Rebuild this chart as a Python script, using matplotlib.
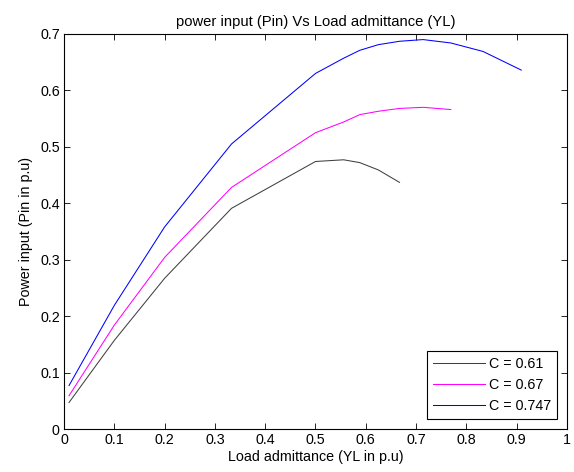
import matplotlib
matplotlib.use('Agg')
import matplotlib.pyplot as plt

plt.rcParams['font.family'] = ['Liberation Sans', 'DejaVu Sans']

# Load admittance YL = 1/RL
yl_061 = [0.01, 0.1, 0.2, 0.333, 0.5, 0.556, 0.588, 0.625, 0.667]
pin_061 = [0.047, 0.157, 0.267, 0.391, 0.474, 0.477, 0.472, 0.459, 0.437]

yl_067 = [0.01, 0.1, 0.2, 0.333, 0.5, 0.556, 0.588, 0.625, 0.667, 0.714, 0.769]
pin_067 = [0.059, 0.184, 0.304, 0.428, 0.525, 0.544, 0.557, 0.563, 0.568, 0.570, 0.566]

yl_0747 = [0.01, 0.1, 0.2, 0.333, 0.5, 0.556, 0.588, 0.625, 0.667, 0.714, 0.769, 0.833, 0.909]
pin_0747 = [0.077, 0.219, 0.358, 0.505, 0.630, 0.657, 0.671, 0.681, 0.687, 0.690, 0.684, 0.669, 0.636]

labels = ['C = 0.61', 'C = 0.67', 'C = 0.747']
fs = 10.3

fig = plt.figure(figsize=(5.74, 4.72), dpi=100)
ax = fig.add_axes([0.1115, 0.0911, 0.8763, 0.837])

ax.plot(yl_061, pin_061, color='#404040', linewidth=0.75, label=labels[0])
ax.plot(yl_067, pin_067, color='#ff00ff', linewidth=0.75, label=labels[1])
ax.plot(yl_0747, pin_0747, color='#0000ff', linewidth=0.75, label=labels[2])

ax.set_xlim(0, 1)
ax.set_ylim(0, 0.7)
ax.set_xticks([i / 10 for i in range(11)])
ax.set_xticklabels(['0', '0.1', '0.2', '0.3', '0.4', '0.5', '0.6', '0.7', '0.8', '0.9', '1'])
ax.set_yticks([i / 10 for i in range(8)])
ax.set_yticklabels(['0', '0.1', '0.2', '0.3', '0.4', '0.5', '0.6', '0.7'])
ax.tick_params(direction='in', top=True, right=True, length=4, width=0.6,
               labelsize=fs, pad=3)
for s in ax.spines.values():
    s.set_linewidth(0.8)

ax.set_title('power input (Pin) Vs Load admittance (YL)', fontsize=10.6, pad=6)
ax.set_xlabel('Load admittance (YL in p.u)', fontsize=fs, labelpad=2)
ax.set_ylabel('Power input (Pin in p.u)', fontsize=fs, labelpad=5)

leg = ax.legend(loc='lower right', fontsize=fs, fancybox=False, framealpha=1,
                edgecolor='black', borderaxespad=0.7, handlelength=3.6,
                handletextpad=0.3, labelspacing=0.5, borderpad=0.4)
leg.get_frame().set_linewidth(0.8)

fig.savefig('out.png', dpi=100)
